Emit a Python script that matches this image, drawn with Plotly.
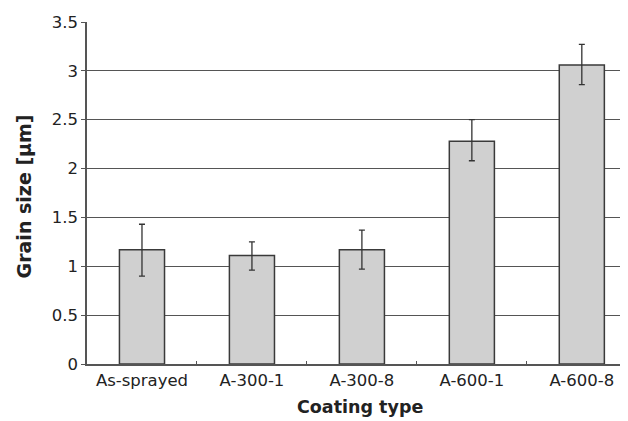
import plotly.graph_objects as go

categories = ["As-sprayed", "A-300-1", "A-300-8", "A-600-1", "A-600-8"]
grain_size = [1.17, 1.11, 1.17, 2.28, 3.06]
err_plus = [0.26, 0.14, 0.20, 0.22, 0.21]
err_minus = [0.27, 0.15, 0.20, 0.20, 0.20]
y_ticks = [0, 0.5, 1, 1.5, 2, 2.5, 3, 3.5]
y_tick_labels = ["0", "0.5", "1", "1.5", "2", "2.5", "3", "3.5"]

fig = go.Figure()
fig.add_trace(go.Bar(
    x=categories, y=grain_size, width=0.41,
    marker=dict(color="#d0d0d0", line=dict(color="#3a3a3a", width=1.5)),
    error_y=dict(type="data", symmetric=False, array=err_plus, arrayminus=err_minus,
                 color="#333333", thickness=1.3, width=3),
))

fig.update_layout(
    width=620, height=413,
    margin=dict(l=79, r=0, t=14, b=57),
    paper_bgcolor="white", plot_bgcolor="white",
    showlegend=False,
    font=dict(family="DejaVu Sans, Liberation Sans, Arial, sans-serif", color="#222222", size=16),
    bargap=0.5,
)
fig.update_xaxes(
    range=[-0.5, 4.42], showline=True, linecolor="#555555", linewidth=1.5,
    ticks="inside", tickson="boundaries", ticklen=3, tickcolor="#555555",
    tickfont=dict(size=16.5), showgrid=False,
)
fig.update_yaxes(
    range=[0, 3.5], tickvals=y_ticks, ticktext=y_tick_labels,
    showline=True, linecolor="#555555", linewidth=1.5,
    ticks="outside", ticklen=4, tickcolor="#555555",
    showgrid=True, gridcolor="#555555", gridwidth=1.3, zeroline=False,
    tickfont=dict(size=16.5),
)
fig.add_annotation(
    text="<b>Grain size [μm]</b>", textangle=-90, showarrow=False,
    xref="paper", yref="paper", x=0, y=0.49, xanchor="center", yanchor="middle",
    xshift=-63, font=dict(size=19),
)
fig.add_annotation(
    text="<b>Coating type</b>", showarrow=False,
    xref="paper", yref="paper", x=0.505, y=0, xanchor="center", yanchor="middle",
    yshift=-43, font=dict(size=17.5),
)

fig.write_html("out.html")
